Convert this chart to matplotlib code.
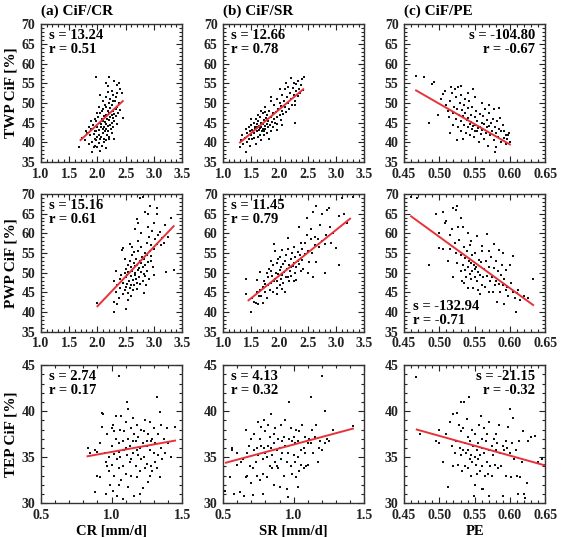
import matplotlib
matplotlib.use("Agg")
import matplotlib.pyplot as plt
import numpy as np
from matplotlib.ticker import MultipleLocator, AutoMinorLocator

plt.rcParams['font.family'] = ['Liberation Serif', 'DejaVu Serif']
plt.rcParams['font.weight'] = 'bold'

# ---- data: (x, CiF %) pairs per panel ----
twp_cr = [(1.68,38.8),(1.72,41.2),(1.78,40.5),(1.82,42.5),(1.85,39.5),(1.87,41.8),(1.88,43.5),(1.90,37.6),
          (1.90,40.2),(1.92,44.5),(1.93,42.2),(1.95,39.0),(1.95,41.0),(1.96,43.0),(1.97,45.5),(1.98,40.5),
          (1.98,42.8),(2.00,38.8),(2.00,41.5),(2.00,44.0),(2.01,46.5),(2.02,39.8),(2.02,43.2),(2.03,42.0),
          (2.04,45.0),(2.05,40.8),(2.05,47.5),(2.06,43.8),(2.07,41.5),(2.07,44.6),(2.08,46.0),(2.08,39.2),
          (2.09,42.5),(2.10,43.5),(2.10,45.5),(2.10,48.5),(2.11,41.0),(2.12,44.0),(2.12,46.8),(2.13,42.8),
          (2.13,49.5),(2.14,45.2),(2.15,40.5),(2.15,43.5),(2.15,47.0),(2.16,44.8),(2.16,51.5),(2.17,42.0),
          (2.17,46.0),(2.18,48.0),(2.18,44.2),(2.19,43.0),(2.20,45.8),(2.20,47.5),(2.20,50.0),(2.21,41.5),
          (2.22,44.5),(2.22,46.5),(2.23,48.8),(2.24,43.5),(2.25,47.0),(2.25,45.0),(2.26,49.5),(2.27,46.2),
          (2.28,44.0),(2.28,48.0),(2.30,47.2),(2.30,45.5),(2.31,50.5),(2.32,46.8),(2.33,48.5),(2.34,44.8),
          (2.35,49.0),(2.36,47.5),(2.38,50.0),(2.40,48.2),(2.45,46.1),(2.43,52.5),(2.40,53.5),(2.35,54.5),
          (2.30,55.5),(2.25,53.0),(2.20,56.5),(2.18,54.2),(2.15,55.0),(2.28,52.0),(2.33,51.5),(2.05,52.0),
          (2.10,50.5),(1.97,56.5),(2.00,47.5),(1.95,46.0),(2.25,42.5),(2.20,40.8),(2.30,41.0),(2.15,38.5),
          (2.05,37.8),(1.93,38.8),(2.12,40.0),(2.18,52.8),(2.38,55.2),(2.02,49.0),(1.88,45.5),(1.85,44.0),
          (1.80,43.0),(2.08,48.0),(2.16,49.0),(2.22,51.0),(2.27,50.5),(2.35,52.5)]

twp_sr = [(1.30,38.8),(1.32,40.5),(1.33,42.0),(1.35,39.5),(1.38,41.2),(1.40,37.6),(1.40,43.5),(1.42,40.2),
          (1.43,42.5),(1.45,44.0),(1.46,41.0),(1.48,43.0),(1.48,39.2),(1.50,42.0),(1.50,44.5),(1.52,40.8),
          (1.52,43.2),(1.54,45.0),(1.55,42.5),(1.55,41.2),(1.56,44.0),(1.57,43.5),(1.58,39.5),(1.58,46.0),
          (1.60,42.8),(1.60,44.8),(1.61,43.8),(1.62,41.5),(1.62,45.5),(1.63,43.2),(1.64,44.2),(1.65,42.0),
          (1.65,46.5),(1.66,43.6),(1.67,45.0),(1.68,44.0),(1.68,40.5),(1.69,42.8),(1.70,43.5),(1.70,47.5),
          (1.71,44.6),(1.72,43.0),(1.72,45.8),(1.73,41.8),(1.74,44.2),(1.75,43.4),(1.75,49.0),(1.76,46.2),
          (1.77,42.5),(1.78,44.8),(1.78,47.0),(1.80,43.8),(1.80,45.5),(1.81,41.0),(1.82,48.0),(1.83,44.5),
          (1.84,46.5),(1.85,43.0),(1.85,50.5),(1.86,45.2),(1.88,47.5),(1.88,44.0),(1.90,46.0),(1.90,49.5),
          (1.92,45.0),(1.93,47.8),(1.95,46.5),(1.95,51.0),(1.96,44.8),(1.98,48.5),(2.00,47.0),(2.00,50.0),
          (2.02,45.8),(2.03,49.2),(2.05,48.0),(2.05,52.0),(2.07,47.2),(2.08,50.5),(2.10,49.0),(2.10,53.5),
          (2.12,47.8),(2.13,51.5),(2.15,50.0),(2.15,54.0),(2.17,48.5),(2.18,52.5),(2.20,51.0),(2.20,56.3),
          (2.22,49.5),(2.23,53.8),(2.25,52.0),(2.25,55.0),(2.27,50.5),(2.28,45.0),(2.30,53.0),(2.30,54.8),
          (2.32,51.8),(2.33,55.5),(2.35,53.5),(2.36,52.5),(2.38,54.5),(2.40,56.0),(2.42,53.2),(2.43,56.6),
          (2.05,44.5),(1.95,43.2),(1.85,51.5),(1.75,47.8),(1.68,48.0),(1.62,47.0),(1.58,44.0),(1.50,46.0),
          (2.12,55.0),(2.28,49.5),(2.00,53.5)]

twp_pe = [(0.467,56.8),(0.478,56.5),(0.485,45.0),(0.490,54.8),(0.493,55.3),(0.498,47.0),(0.502,51.0),
          (0.505,52.2),(0.508,53.0),(0.510,49.5),(0.512,48.0),(0.513,46.5),(0.515,50.5),(0.516,54.0),
          (0.518,52.5),(0.519,44.5),(0.520,47.5),(0.521,49.0),(0.522,53.5),(0.523,46.0),(0.524,51.5),
          (0.525,48.5),(0.526,44.0),(0.527,54.0),(0.528,47.0),(0.529,50.0),(0.530,45.5),(0.530,52.0),
          (0.531,43.0),(0.532,48.2),(0.533,46.8),(0.534,40.8),(0.535,49.5),(0.535,44.5),(0.536,51.0),
          (0.537,47.5),(0.538,42.5),(0.539,45.8),(0.540,48.8),(0.540,43.8),(0.541,46.2),(0.542,50.5),
          (0.543,44.8),(0.544,42.0),(0.545,47.0),(0.545,45.2),(0.546,43.5),(0.547,49.0),(0.548,44.2),
          (0.549,41.5),(0.550,46.5),(0.550,43.0),(0.551,44.5),(0.552,48.0),(0.553,42.8),(0.554,45.5),
          (0.555,43.6),(0.556,40.0),(0.557,47.2),(0.558,44.0),(0.559,42.2),(0.560,45.0),(0.561,43.2),
          (0.562,46.8),(0.563,41.0),(0.564,44.6),(0.565,48.5),(0.566,42.5),(0.567,45.8),(0.568,43.8),
          (0.569,39.2),(0.570,44.2),(0.571,47.5),(0.572,42.0),(0.573,45.0),(0.575,43.0),(0.576,46.0),
          (0.577,40.5),(0.578,48.5),(0.579,44.0),(0.580,42.5),(0.581,38.8),(0.582,45.5),(0.583,41.5),
          (0.585,43.5),(0.586,46.2),(0.587,40.0),(0.588,42.8),(0.590,44.5),(0.591,41.2),(0.592,43.0),
          (0.594,39.5),(0.595,42.0),(0.596,40.8),(0.598,41.8),(0.599,42.5),(0.600,40.2),(0.579,37.5),
          (0.548,53.5),(0.540,52.5),(0.530,54.3),(0.560,50.0),(0.570,49.5),(0.515,42.5),(0.525,40.5),
          (0.550,51.5),(0.585,48.8)]

pwp_cr = [(2.00,42.2),(2.30,40.0),(2.30,42.5),(2.35,42.0),(2.32,45.0),(2.30,48.0),(2.32,50.5),(2.35,47.0),
          (2.38,43.5),(2.40,46.0),(2.40,48.5),(2.42,49.5),(2.43,55.8),(2.45,56.2),(2.45,44.5),(2.46,47.5),
          (2.48,50.0),(2.48,45.5),(2.50,48.8),(2.50,51.0),(2.51,46.5),(2.52,49.5),(2.53,47.2),(2.54,52.0),
          (2.55,50.2),(2.55,44.8),(2.56,48.0),(2.57,53.0),(2.58,46.0),(2.58,57.3),(2.59,49.2),(2.60,51.5),
          (2.60,47.0),(2.61,54.5),(2.62,50.5),(2.63,48.2),(2.63,45.5),(2.64,52.5),(2.65,46.8),(2.65,55.2),
          (2.66,50.0),(2.67,51.8),(2.67,61.2),(2.68,48.5),(2.69,53.5),(2.70,52.0),(2.70,47.5),(2.70,63.5),
          (2.71,50.8),(2.72,55.5),(2.72,62.5),(2.73,49.0),(2.74,51.2),(2.75,53.0),(2.75,69.0),(2.76,47.2),
          (2.77,52.5),(2.78,50.2),(2.78,56.5),(2.79,54.0),(2.80,69.2),(2.80,48.0),(2.81,51.5),(2.82,53.5),
          (2.82,44.8),(2.83,49.8),(2.84,55.0),(2.85,52.0),(2.85,65.5),(2.86,47.0),(2.87,57.5),(2.88,50.5),
          (2.88,54.5),(2.89,61.5),(2.90,65.0),(2.90,52.8),(2.91,48.5),(2.92,59.0),(2.93,55.5),(2.93,67.0),
          (2.95,53.0),(2.95,57.0),(2.97,60.5),(2.98,51.5),(3.00,56.0),(3.00,49.5),(3.02,58.5),(3.05,66.5),
          (3.05,65.0),(3.05,57.2),(3.08,59.5),(3.10,60.2),(3.12,57.0),(3.15,58.8),(3.18,57.5),(3.20,62.0),
          (3.22,50.2),(3.25,59.0),(3.30,64.0),(3.35,50.7),(2.60,44.0),(2.55,43.2),(2.50,40.8),(2.67,49.5),
          (2.72,58.0),(2.78,60.0),(2.62,56.5),(2.48,53.5),(2.85,49.2),(2.95,54.2),(3.00,62.5),(2.70,45.8)]

pwp_sr = [(1.40,48.5),(1.40,44.5),(1.50,40.0),(1.52,43.5),(1.55,42.5),(1.58,42.3),(1.60,45.0),(1.60,48.2),
          (1.62,42.0),(1.63,44.2),(1.65,50.2),(1.65,45.5),(1.68,44.0),(1.70,42.3),(1.70,46.5),(1.72,48.0),
          (1.75,45.2),(1.75,47.2),(1.78,50.0),(1.78,43.5),(1.80,46.8),(1.80,48.8),(1.82,51.0),(1.83,45.5),
          (1.85,47.5),(1.85,50.5),(1.87,49.2),(1.88,45.0),(1.88,52.0),(1.90,47.8),(1.90,57.2),(1.92,48.5),
          (1.92,55.5),(1.93,50.0),(1.95,46.2),(1.95,52.5),(1.96,48.0),(1.97,49.8),(1.98,53.5),(2.00,47.0),
          (2.00,50.8),(2.01,54.0),(2.02,48.5),(2.03,51.5),(2.05,49.5),(2.05,55.8),(2.06,47.5),(2.07,52.2),
          (2.08,50.2),(2.10,53.0),(2.10,45.0),(2.11,48.8),(2.12,54.5),(2.13,51.0),(2.15,49.0),(2.15,56.0),
          (2.16,52.0),(2.17,47.8),(2.18,50.5),(2.20,53.5),(2.20,51.5),(2.21,49.2),(2.22,55.0),(2.23,51.8),
          (2.25,48.0),(2.25,56.5),(2.26,52.5),(2.28,50.0),(2.28,54.0),(2.30,51.5),(2.30,48.2),(2.32,53.0),
          (2.33,55.2),(2.35,52.2),(2.35,61.5),(2.37,54.5),(2.38,50.5),(2.40,56.0),(2.40,53.2),(2.42,51.0),
          (2.45,57.5),(2.45,54.8),(2.48,59.5),(2.48,63.8),(2.50,55.5),(2.52,52.8),(2.55,58.5),(2.55,61.0),
          (2.58,55.0),(2.60,65.5),(2.60,49.0),(2.62,57.0),(2.63,59.0),(2.65,67.0),(2.65,52.8),(2.68,58.5),
          (2.70,56.5),(2.72,62.0),(2.75,65.0),(2.75,58.0),(2.80,50.0),(2.80,57.2),(2.83,59.5),(2.85,66.0),
          (2.88,66.5),(2.90,61.5),(2.92,57.5),(2.95,60.0),(3.00,56.2),(3.05,64.5),(3.05,52.0),(3.10,69.0),
          (3.15,65.0),(3.20,62.5),(3.30,69.2),(2.50,50.0),(1.95,44.5),(2.05,45.8),(1.85,53.0),(2.15,58.8),
          (2.38,57.5)]

pwp_pe = [(0.460,69.3),(0.468,69.0),(0.485,52.0),(0.495,65.0),(0.500,60.0),(0.500,56.2),(0.505,56.0),
          (0.505,65.5),(0.508,62.5),(0.510,63.0),(0.512,53.0),(0.515,56.0),(0.518,61.0),(0.520,66.5),
          (0.520,48.8),(0.522,57.5),(0.523,66.0),(0.524,55.0),(0.525,67.0),(0.525,52.5),(0.527,61.5),
          (0.528,58.2),(0.530,64.0),(0.530,50.5),(0.531,54.5),(0.532,48.0),(0.533,61.5),(0.534,52.0),
          (0.535,56.5),(0.535,47.5),(0.536,50.8),(0.537,53.8),(0.538,49.0),(0.539,55.5),(0.540,51.5),
          (0.540,60.0),(0.541,46.0),(0.542,53.0),(0.543,49.8),(0.544,57.0),(0.545,52.5),(0.545,48.5),
          (0.546,54.5),(0.547,50.5),(0.548,46.2),(0.549,52.0),(0.550,51.0),(0.550,55.0),(0.551,49.0),
          (0.552,51.5),(0.553,59.2),(0.554,47.8),(0.555,50.2),(0.556,53.2),(0.557,44.5),(0.558,49.5),
          (0.559,52.8),(0.560,47.0),(0.561,55.5),(0.562,48.8),(0.563,51.0),(0.565,46.5),(0.566,53.0),
          (0.567,59.8),(0.568,49.2),(0.570,45.0),(0.571,51.5),(0.572,47.8),(0.573,54.0),(0.575,49.0),
          (0.576,45.2),(0.577,51.2),(0.578,57.2),(0.579,46.8),(0.580,53.0),(0.581,48.0),(0.582,42.5),
          (0.583,50.5),(0.584,55.8),(0.585,47.2),(0.586,45.0),(0.588,49.5),(0.589,52.0),(0.590,47.0),
          (0.591,42.0),(0.592,48.5),(0.594,45.5),(0.595,50.8),(0.596,46.5),(0.598,44.2),(0.600,52.0),
          (0.602,47.5),(0.604,45.0),(0.605,54.2),(0.607,43.5),(0.608,40.0),(0.610,44.8),(0.612,45.5),
          (0.615,43.0),(0.620,44.0),(0.625,43.6),(0.633,48.5),(0.515,59.5),(0.545,58.0),(0.560,56.8),
          (0.555,45.5),(0.570,55.5),(0.590,55.0)]

tep_cr = [(0.83,36.0),(0.85,35.5),(0.88,35.8),(0.88,31.2),(0.90,33.0),(0.92,32.8),(0.92,36.5),(0.93,39.8),
          (0.94,39.7),(0.93,38.3),(0.95,35.5),(0.96,34.5),(0.96,31.0),(0.97,37.5),(0.98,33.5),(0.98,35.0),
          (0.99,32.0),(1.00,36.2),(1.00,34.2),(1.01,38.5),(1.01,31.3),(1.02,35.3),(1.02,33.0),(1.03,37.0),
          (1.03,39.5),(1.04,34.8),(1.04,30.8),(1.05,43.8),(1.05,36.5),(1.05,33.8),(1.06,38.0),(1.06,35.0),
          (1.07,32.5),(1.07,39.5),(1.08,36.8),(1.08,34.0),(1.09,37.8),(1.09,35.8),(1.10,33.2),(1.10,38.8),
          (1.11,41.0),(1.11,35.2),(1.12,37.0),(1.12,31.8),(1.13,34.5),(1.13,36.2),(1.14,38.2),(1.14,33.0),
          (1.15,39.3),(1.15,35.5),(1.16,30.8),(1.16,37.5),(1.17,34.0),(1.17,36.8),(1.18,38.5),(1.18,32.8),
          (1.19,35.2),(1.19,37.2),(1.20,33.5),(1.20,36.0),(1.21,38.0),(1.21,34.8),(1.22,31.6),(1.22,36.5),
          (1.23,35.0),(1.23,37.8),(1.24,33.8),(1.24,39.0),(1.25,36.2),(1.25,34.3),(1.26,32.3),(1.26,37.5),
          (1.27,35.8),(1.27,38.8),(1.28,34.0),(1.28,36.8),(1.29,33.5),(1.29,37.0),(1.30,35.5),(1.30,38.2),
          (1.31,36.5),(1.31,34.5),(1.32,41.5),(1.32,33.8),(1.33,37.5),(1.33,35.2),(1.34,39.9),(1.34,32.8),
          (1.35,36.0),(1.35,38.5),(1.36,34.8),(1.37,37.0),(1.38,35.5),(1.39,38.2),(1.40,36.5),(1.42,35.0),
          (1.45,38.3),(1.02,37.8),(0.97,34.0),(1.08,30.5),(1.12,40.2),(1.00,38.2),(0.90,35.6),(1.15,36.8),
          (1.18,35.8),(1.25,36.8),(1.10,36.0),(1.05,35.6),(1.20,31.0),(1.27,33.0),(1.05,32.0),(1.14,34.8)]

tep_sr = [(0.51,31.3),(0.55,32.8),(0.56,35.8),(0.56,36.0),(0.58,31.0),(0.60,34.2),(0.60,35.5),(0.62,31.2),
          (0.63,34.5),(0.64,34.8),(0.65,30.8),(0.66,32.8),(0.66,38.0),(0.67,33.0),(0.67,35.5),(0.68,36.2),
          (0.69,34.0),(0.70,32.2),(0.70,37.0),(0.71,30.9),(0.71,33.8),(0.72,35.8),(0.72,37.5),(0.73,34.5),
          (0.74,36.0),(0.74,33.0),(0.75,38.8),(0.75,35.2),(0.76,32.5),(0.76,37.0),(0.77,36.2),(0.77,38.3),
          (0.78,34.8),(0.78,33.2),(0.79,36.0),(0.79,39.0),(0.80,35.5),(0.80,37.8),(0.81,32.8),(0.81,35.0),
          (0.82,38.5),(0.82,36.2),(0.83,34.0),(0.83,37.2),(0.84,36.0),(0.84,39.7),(0.85,35.2),(0.85,33.8),
          (0.86,37.5),(0.86,36.5),(0.87,34.5),(0.87,38.2),(0.88,35.8),(0.89,37.0),(0.89,33.8),(0.90,36.0),
          (0.90,31.8),(0.91,38.5),(0.91,34.8),(0.92,35.5),(0.93,37.2),(0.93,33.0),(0.94,36.2),(0.95,31.5),
          (0.95,34.5),(0.96,30.7),(0.96,35.5),(0.97,41.0),(0.97,37.0),(0.98,38.2),(0.98,34.0),(0.99,36.8),
          (0.99,33.2),(1.00,35.2),(1.00,37.2),(1.01,34.5),(1.01,36.5),(1.02,38.0),(1.02,32.8),(1.03,35.0),
          (1.03,36.8),(1.04,33.5),(1.04,37.8),(1.05,35.8),(1.05,34.2),(1.06,38.5),(1.07,36.0),(1.07,33.8),
          (1.08,35.5),(1.08,37.2),(1.09,34.0),(1.10,36.5),(1.10,34.2),(1.11,37.0),(1.12,41.5),(1.12,36.5),
          (1.13,38.0),(1.14,35.5),(1.15,37.2),(1.16,38.5),(1.17,34.5),(1.18,36.0),(1.19,36.8),(1.20,43.8),
          (1.20,35.8),(1.22,40.0),(1.22,36.5),(1.24,37.0),(1.25,36.8),(1.28,38.0),(1.42,38.4),(0.88,34.0),
          (0.94,39.0),(0.92,36.8),(0.86,32.0),(0.78,31.0),(1.03,31.8)]

tep_pe = [(0.467,43.7),(0.472,37.5),(0.495,36.8),(0.500,38.0),(0.505,34.5),(0.510,37.5),(0.512,31.8),
          (0.515,38.8),(0.518,36.2),(0.520,39.7),(0.522,35.5),(0.524,36.8),(0.525,39.8),(0.526,34.2),
          (0.528,38.5),(0.529,36.0),(0.530,35.2),(0.531,37.8),(0.532,33.5),(0.533,35.8),(0.534,38.2),
          (0.535,41.0),(0.536,34.0),(0.537,36.5),(0.538,35.5),(0.539,39.2),(0.540,33.8),(0.540,37.2),
          (0.541,35.8),(0.542,41.5),(0.543,34.8),(0.544,36.8),(0.545,35.2),(0.545,33.0),(0.546,38.0),
          (0.547,34.5),(0.548,36.2),(0.549,30.8),(0.550,35.0),(0.550,32.0),(0.551,37.5),(0.552,34.2),
          (0.553,35.8),(0.554,33.2),(0.555,36.5),(0.555,34.8),(0.556,38.5),(0.557,35.2),(0.558,33.5),
          (0.559,39.5),(0.560,36.0),(0.560,34.0),(0.561,37.0),(0.562,31.5),(0.563,35.5),(0.564,38.2),
          (0.565,33.0),(0.566,36.8),(0.567,34.5),(0.568,37.5),(0.569,33.2),(0.570,35.8),(0.571,38.8),
          (0.572,34.0),(0.574,36.2),(0.575,33.0),(0.576,35.2),(0.578,37.0),(0.579,34.2),(0.580,35.8),
          (0.582,36.5),(0.583,33.8),(0.585,38.5),(0.586,35.5),(0.588,34.0),(0.590,36.2),(0.590,30.8),
          (0.592,35.8),(0.594,33.0),(0.596,36.0),(0.598,38.3),(0.600,35.5),(0.601,32.8),(0.603,36.5),
          (0.605,39.3),(0.606,34.8),(0.608,35.8),(0.610,33.0),(0.612,31.0),(0.613,36.8),(0.615,32.8),
          (0.617,34.5),(0.618,37.8),(0.620,31.0),(0.622,30.6),(0.624,32.2),(0.626,36.8),(0.630,37.2),
          (0.635,37.3),(0.640,34.5),(0.645,34.8),(0.648,34.2),(0.650,34.0),(0.600,40.2),(0.530,41.0),
          (0.560,31.5),(0.570,30.8),(0.500,36.5),(0.520,34.0),(0.580,37.5),(0.595,36.8)]

# fitted line end points (x0, x1), (y0, y1)
fits = {
    'twp_cr': ((1.70, 2.45), (40.6, 50.5)),
    'twp_sr': ((1.30, 2.42), (40.0, 53.5)),
    'twp_pe': ((0.467, 0.600), (53.2, 39.5)),
    'pwp_cr': ((2.00, 3.35), (41.5, 61.8)),
    'pwp_sr': ((1.45, 3.25), (43.0, 63.7)),
    'pwp_pe': ((0.460, 0.633), (64.3, 41.8)),
    'tep_cr': ((0.83, 1.45), (35.1, 36.8)),
    'tep_sr': ((0.52, 1.42), (34.4, 38.1)),
    'tep_pe': ((0.468, 0.650), (38.0, 34.1)),
}
stats = {
    'twp_cr': ('13.24', '0.51'), 'twp_sr': ('12.66', '0.78'), 'twp_pe': ('-104.80', '-0.67'),
    'pwp_cr': ('15.16', '0.61'), 'pwp_sr': ('11.45', '0.79'), 'pwp_pe': ('-132.94', '-0.71'),
    'tep_cr': ('2.74', '0.17'), 'tep_sr': ('4.13', '0.32'), 'tep_pe': ('-21.15', '-0.32'),
}
panel_data = {'twp_cr': twp_cr, 'twp_sr': twp_sr, 'twp_pe': twp_pe,
              'pwp_cr': pwp_cr, 'pwp_sr': pwp_sr, 'pwp_pe': pwp_pe,
              'tep_cr': tep_cr, 'tep_sr': tep_sr, 'tep_pe': tep_pe}

regions = ['twp', 'pwp', 'tep']
region_labels = ['TWP CiF [%]', 'PWP CiF [%]', 'TEP CiF [%]']
variables = ['cr', 'sr', 'pe']
titles = ['(a) CiF/CR', '(b) CiF/SR', '(c) CiF/PE']
xlabels = ['CR [mm/d]', 'SR [mm/d]', 'PE']

# stat text placement: (x, y, ha, va) in axes coords
text_pos = {'twp_pe': (0.93, 0.965, 'right', 'top'),
            'pwp_pe': (0.06, 0.035, 'left', 'bottom'),
            'tep_pe': (0.93, 0.965, 'right', 'top')}

fig = plt.figure(figsize=(5.62, 5.37), dpi=100)
lefts = [0.073, 0.397, 0.719]
bottoms = [0.698, 0.382, 0.063]
w, h = 0.251, 0.257

for i, reg in enumerate(regions):
    for j, var in enumerate(variables):
        key = reg + '_' + var
        ax = fig.add_axes([lefts[j], bottoms[i], w, h])
        xy = np.array(panel_data[key])
        ax.scatter(xy[:, 0], xy[:, 1], s=2.5, marker='s', color='#111111', linewidths=0, zorder=2)
        fx, fy = fits[key]
        ax.plot(fx, fy, color='#e8323a', lw=1.4, zorder=3)

        if var == 'pe':
            ax.set_xlim(0.45, 0.65)
            ax.xaxis.set_major_locator(MultipleLocator(0.05))
            ax.xaxis.set_major_formatter(plt.FuncFormatter(lambda v, p: f'{v:.2f}'))
        elif reg == 'tep':
            ax.set_xlim(0.5, 1.5)
            ax.xaxis.set_major_locator(MultipleLocator(0.5))
            ax.xaxis.set_major_formatter(plt.FuncFormatter(lambda v, p: f'{v:.1f}'))
        else:
            ax.set_xlim(1.0, 3.5)
            ax.xaxis.set_major_locator(MultipleLocator(0.5))
            ax.xaxis.set_major_formatter(plt.FuncFormatter(lambda v, p: f'{v:.1f}'))
        if reg == 'tep':
            ax.set_ylim(30, 45)
        else:
            ax.set_ylim(35, 70)
        ax.yaxis.set_major_locator(MultipleLocator(5))
        ax.xaxis.set_minor_locator(AutoMinorLocator(5))
        ax.yaxis.set_minor_locator(AutoMinorLocator(5))

        ax.tick_params(which='both', direction='in', top=True, right=True,
                       labelsize=10, width=0.8, colors='#222222')
        ax.tick_params(which='major', length=4.5, pad=4)
        ax.tick_params(which='minor', length=2.2)
        for lab in ax.get_xticklabels() + ax.get_yticklabels():
            lab.set_fontweight('bold')
        for sp in ax.spines.values():
            sp.set_linewidth(1.0)
            sp.set_color('#333333')

        s_val, r_val = stats[key]
        tx, ty, ha, va = text_pos.get(key, (0.055, 0.965, 'left', 'top'))
        ax.text(tx, ty, f's = {s_val}\nr = {r_val}', transform=ax.transAxes,
                ha=ha, va=va, fontsize=10.5, fontweight='bold', linespacing=1.1)

        if i == 0:
            ax.text(0.0, 1.045, titles[j], transform=ax.transAxes, ha='left',
                    va='bottom', fontsize=11, fontweight='bold')
        if j == 0:
            ax.set_ylabel(region_labels[i], fontsize=11, fontweight='bold', labelpad=3)
        if i == 2:
            ax.set_xlabel(xlabels[j], fontsize=10.5, fontweight='bold', labelpad=2)

fig.savefig('out.png', dpi=100)
